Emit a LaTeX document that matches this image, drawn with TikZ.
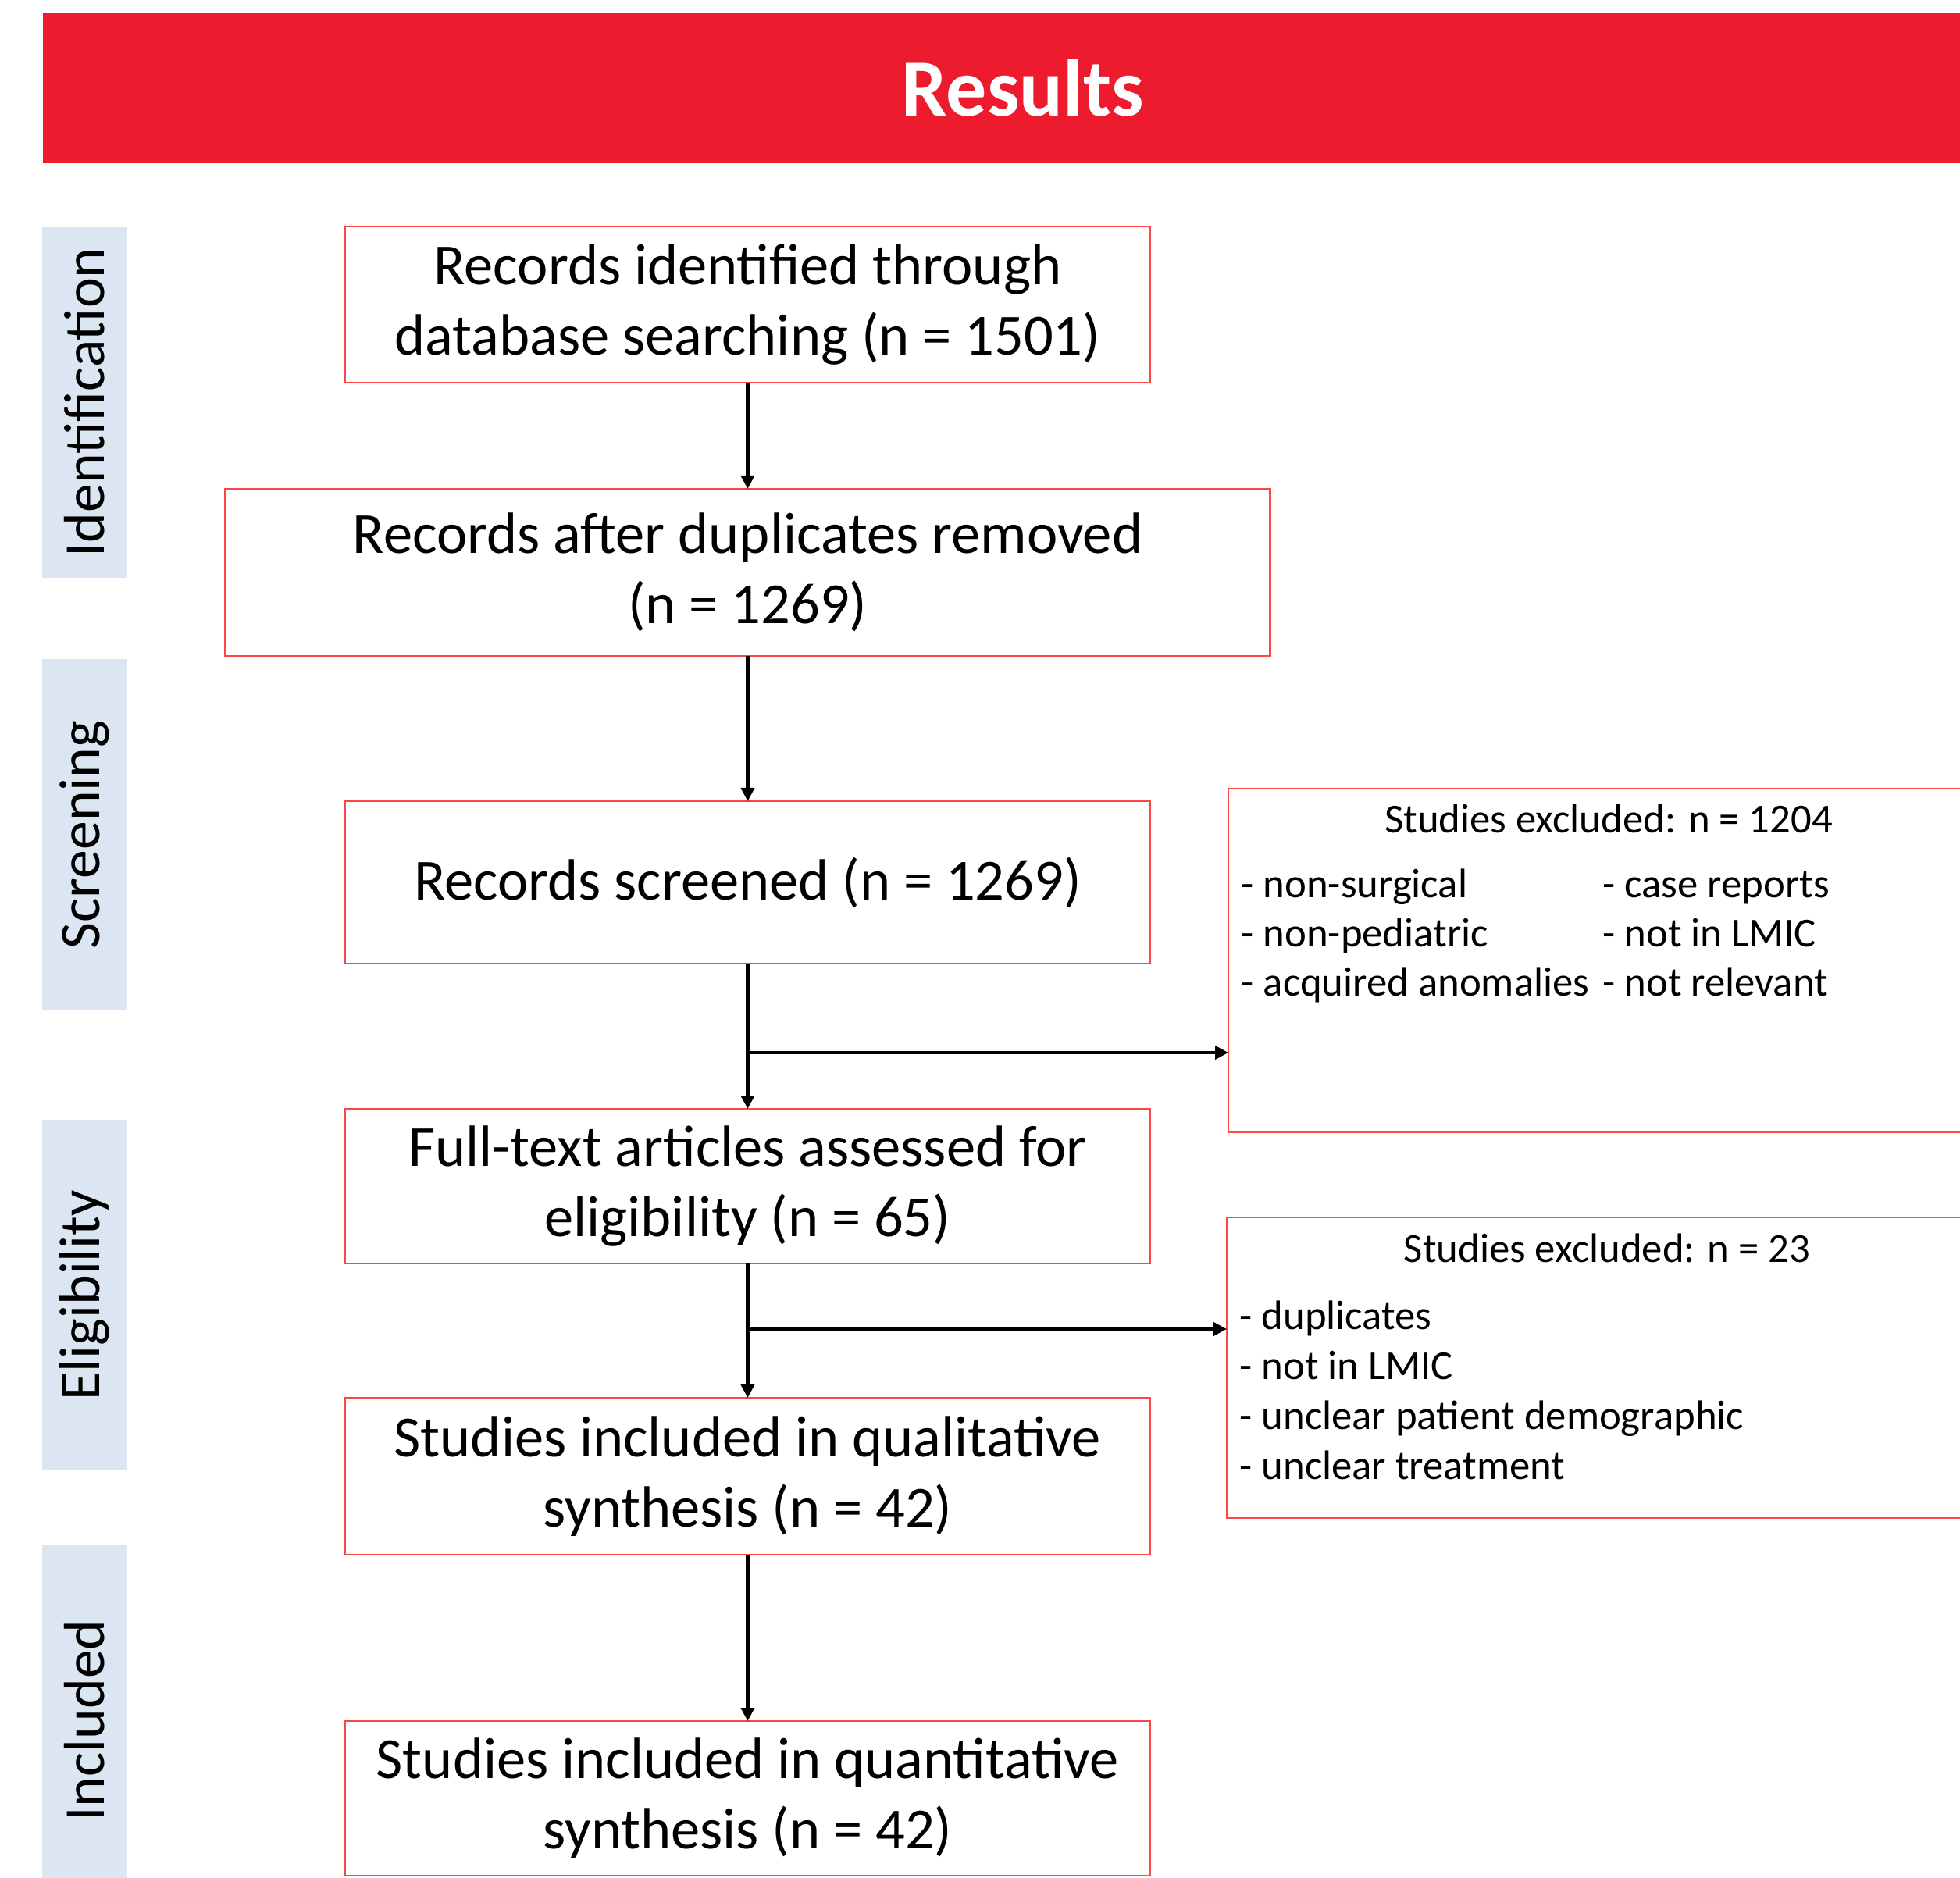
\documentclass[tikz,border=0pt]{standalone}
\usepackage{fontspec}
\setmainfont{Carlito}
\usepackage{xcolor}
\usepackage{tikz}
\usetikzlibrary{arrows.meta, positioning}

\definecolor{bandred}{RGB}{237,27,46}
\definecolor{edgered}{RGB}{250,70,70}
\definecolor{phaseblue}{RGB}{220,230,242}

\begin{document}
\begin{tikzpicture}[
  node distance=1.86cm and 1cm,
  box/.style={rectangle, draw=edgered, line width=0.7pt, inner sep=0pt, outer sep=0pt,
    minimum width=10.31cm, minimum height=2cm,
    font=\fontsize{21.2}{25.6}\selectfont, align=center},
  exbox/.style={rectangle, draw=edgered, line width=0.7pt, outer sep=0pt,
    minimum width=9.74cm, anchor=north west},
  extext/.style={inner sep=0pt, font=\fontsize{15}{17.8}\selectfont},
  phase/.style={rectangle, fill=phaseblue, rotate=90, minimum width=4.49cm,
    minimum height=1.09cm, font=\fontsize{21}{24}\selectfont},
  arrow/.style={-{Triangle[length=1.7mm, width=1.7mm]}, line width=1.15pt}
]
  \useasboundingbox (0,0) rectangle (25.10,-24.05);

  \node[fill=bandred, anchor=north west, minimum width=25.10cm, minimum height=1.92cm,
    text=white, font=\bfseries\fontsize{29.6}{34}\selectfont] (res) at (0.54,-0.16) {Results};

  % phases
  \node[phase] (pid) at (1.085,-5.155) {Identification};
  \node[phase] (pscr) at (1.085,-10.69) {Screening};
  \node[phase] (pel) at (1.085,-16.585) {Eligibility};
  \node[phase] (pinc) at (1.085,-22.035) {Included};

  % main flow
  \node[box] (rec) at (9.575,-3.90) {Records identified through\\database searching (n = 1501)};
  \node[box, below=1.36cm of rec, minimum width=13.38cm, minimum height=2.14cm] (dup) {Records after duplicates removed\\(n = 1269)};
  \node[box, below=of dup, minimum height=2.08cm] (scr) {Records screened (n = 1269)};
  \node[box, below=of scr, minimum height=1.98cm] (full) {Full-text articles assessed for\\eligibility (n = 65)};
  \node[box, below=1.72cm of full, minimum height=2.01cm] (qual) {Studies included in qualitative\\synthesis (n = 42)};
  \node[box, below=2.13cm of qual, minimum height=1.98cm] (quant) {Studies included in quantitative\\synthesis (n = 42)};

  % exclusions
  \node[exbox, minimum height=4.40cm] (exa) at (15.73,-10.10) {};
  \node[extext, anchor=base] (exat) at ([yshift=-0.56cm]exa.north) {Studies excluded: n = 1204};
  \node[extext, anchor=base west] (exal) at ([xshift=0.16cm, yshift=-1.40cm]exa.north west) {%
    \begin{tabular}[t]{@{}p{4.63cm}@{}l@{}}
      - non-surgical & - case reports\\
      - non-pediatric & - not in LMIC\\
      - acquired anomalies & - not relevant
    \end{tabular}};

  \node[exbox, minimum height=3.85cm] (exb) at (15.71,-15.59) {};
  \node[extext, anchor=base] (exbt) at ([yshift=-0.57cm]exb.north) {Studies excluded: n = 23};
  \node[extext, anchor=base west, font=\fontsize{15}{18.3}\selectfont] (exbl) at ([xshift=0.16cm, yshift=-1.43cm]exb.north west) {%
    \begin{tabular}[t]{@{}l@{}}
      - duplicates\\
      - not in LMIC\\
      - unclear patient demographic\\
      - unclear treatment
    \end{tabular}};

  \draw[arrow] (rec) -- (dup);
  \draw[arrow] (dup) -- (scr);
  \draw[arrow] (scr) -- (full);
  \draw[arrow] (full) -- (qual);
  \draw[arrow] (qual) -- (quant);

  \coordinate (ja) at ([yshift=-1.14cm]scr.south);
  \coordinate (jb) at ([yshift=-0.84cm]full.south);
  \draw[arrow] (ja) -- (ja -| exa.west);
  \draw[arrow] (jb) -- (jb -| exb.west);
\end{tikzpicture}
\end{document}
